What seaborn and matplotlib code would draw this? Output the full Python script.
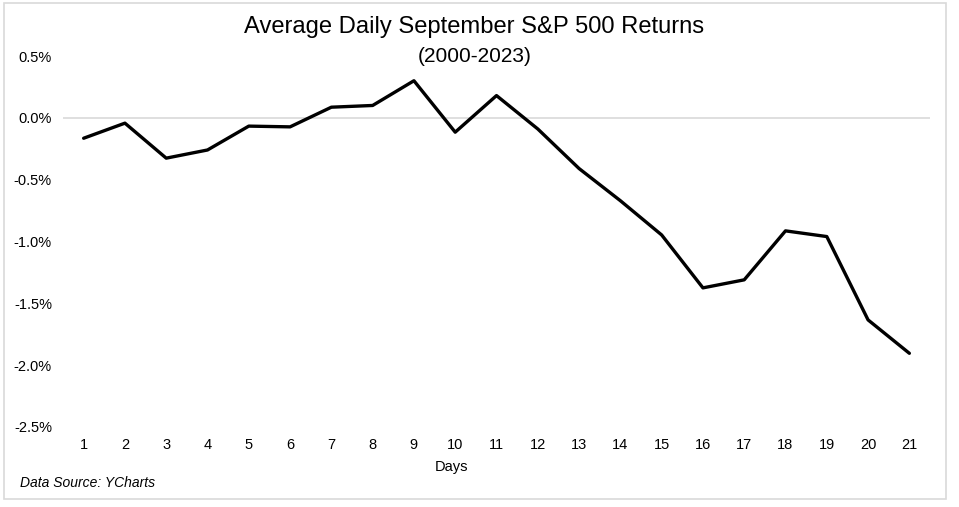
import matplotlib
matplotlib.use("Agg")
import matplotlib.pyplot as plt
import seaborn as sns
import pandas as pd
from matplotlib.patches import Rectangle
from matplotlib.ticker import FuncFormatter

days = list(range(1, 22))
returns = [-0.165, -0.043, -0.326, -0.26, -0.067, -0.073, 0.086, 0.10, 0.30, -0.116,
           0.18, -0.09, -0.41, -0.67, -0.947, -1.375, -1.31, -0.914, -0.96, -1.634, -1.904]
title = "Average Daily September S&P 500 Returns"
subtitle = "(2000-2023)"
xlabel = "Days"
source = "Data Source: YCharts"

sns.set_theme(style="white")
plt.rcParams['font.family'] = ['Liberation Sans', 'DejaVu Sans']

W, H = 959, 507
fig = plt.figure(figsize=(W / 100, H / 100), dpi=100)
ax = fig.add_axes([63 / W, 1 - 427 / H, (930 - 63) / W, (427 - 56) / H])

df = pd.DataFrame({"pos": [d - 1 for d in days], "ret": returns})
ax.axhline(0, color="#d9d9d9", lw=1.2, zorder=1)
sns.lineplot(data=df, x="pos", y="ret", ax=ax, color="black", lw=2.4, zorder=3)

ax.set_xlim(-0.5, len(days) - 0.5)
ax.set_ylim(-2.5, 0.5)
ax.set_xticks(range(len(days)))
ax.set_xticklabels([str(d) for d in days])
ax.set_yticks([0.5, 0.0, -0.5, -1.0, -1.5, -2.0, -2.5])
ax.yaxis.set_major_formatter(FuncFormatter(lambda v, p: f"{v:.1f}%"))
ax.tick_params(axis="both", length=0, labelsize=10.5, colors="black")
ax.tick_params(axis="y", pad=8)
ax.tick_params(axis="x", pad=8)
for s in ax.spines.values():
    s.set_visible(False)
ax.set_xlabel("")
ax.set_ylabel("")
ax.patch.set_alpha(0)

fig.text(452 / W, 1 - 467 / H, xlabel, ha="center", va="center", fontsize=10.5, color="black")
fig.text(474 / W, 1 - 27 / H, title, ha="center", va="center", fontsize=17.1, color="black")
fig.text(475 / W, 1 - 57 / H, subtitle, ha="center", va="center", fontsize=15, color="black")
fig.text(20 / W, 1 - 483 / H, source, ha="left", va="center", fontsize=10,
         style="italic", color="black")

fig.patches.append(Rectangle((4 / W, 1 - 499 / H), (946 - 4) / W, (499 - 3) / H,
                             transform=fig.transFigure, fill=False,
                             edgecolor="#d9d9d9", lw=1.2))

fig.savefig("out.png", dpi=100, facecolor="white")
